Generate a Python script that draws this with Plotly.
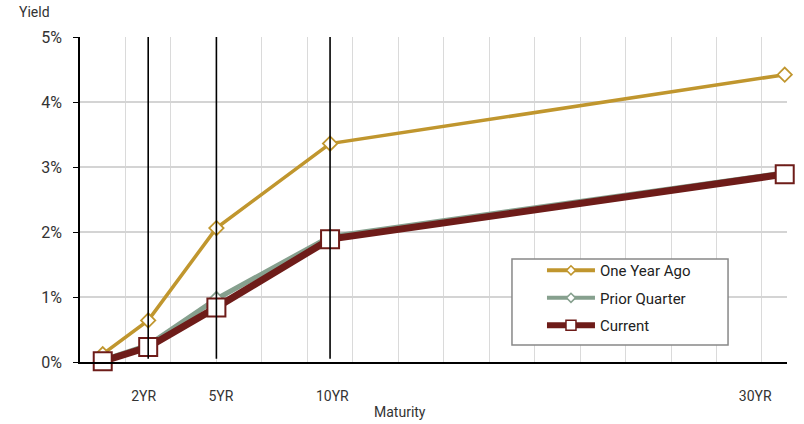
import plotly.graph_objects as go

# Data
maturity_years = [0, 2, 5, 10, 30]
one_year_ago = [0.12, 0.64, 2.06, 3.36, 4.42]
prior_quarter = [0.03, 0.26, 0.97, 1.93, 2.91]
current = [0.01, 0.23, 0.84, 1.89, 2.89]

series_names = ["One Year Ago", "Prior Quarter", "Current"]
tick_labels = ["2YR", "5YR", "10YR", "30YR"]
tick_label_pos = [1.8, 5.2, 10.1, 28.7]
vline_years = [2, 5, 10]

GOLD = "#C0962E"
GREEN = "#86A08E"
MAROON = "#6E1C19"
FONT = "Roboto, Liberation Sans, Arial"
TXT = "#333333"

fig = go.Figure()

styles = [
    (one_year_ago, GOLD, 3.5, "diamond", 11, 1.8, 4, 7),
    (prior_quarter, GREEN, 5, "diamond", 11, 1.8, 4, 7),
    (current, MAROON, 7, "square", 18, 2, 6, 10),
]

# data traces
for name, (vals, col, lw, sym, ms, mlw, leg_lw, leg_ms) in zip(series_names, styles):
    fig.add_trace(go.Scatter(
        x=maturity_years, y=vals, name=name, mode="lines+markers", showlegend=False,
        cliponaxis=False,
        line=dict(color=col, width=lw),
        marker=dict(symbol=sym, size=ms, color="white", line=dict(color=col, width=mlw))))

for v in vline_years:
    fig.add_trace(go.Scatter(
        x=[v, v], y=[0.05, 5], mode="lines", showlegend=False,
        line=dict(color="black", width=1.6), hoverinfo="skip"))

# legend-only entries (smaller symbols, as in the reference legend)
for i, (name, (vals, col, lw, sym, ms, mlw, leg_lw, leg_ms)) in enumerate(zip(series_names, styles)):
    fig.add_trace(go.Scatter(
        x=[None], y=[None], name=name, mode="lines+markers", legendgroup=str(i),
        line=dict(color=col, width=leg_lw),
        marker=dict(symbol=sym, size=leg_ms, color="white", line=dict(color=col, width=1.5))))

fig.update_layout(
    width=804, height=424,
    margin=dict(l=80, r=17, t=37, b=62),
    paper_bgcolor="white", plot_bgcolor="white",
    font=dict(family=FONT, size=14, color=TXT),
    showlegend=True,
    legend=dict(
        x=0.611, y=0.332, xanchor="left", yanchor="top",
        bgcolor="rgba(255,255,255,0)", borderwidth=0,
        font=dict(size=15, color="#222222"), tracegroupgap=5,
        indentation=30, itemwidth=48,
    ),
    shapes=[dict(type="rect", xref="paper", yref="paper",
                 x0=0.611, x1=0.9166, y0=0.0523, y1=0.3169,
                 fillcolor="white", line=dict(color="#888888", width=1.5), layer="above")],
    xaxis=dict(
        range=[-1, 30.1], tickmode="array", tickvals=tick_label_pos, ticktext=tick_labels,
        showgrid=False, zeroline=False, automargin=False,
        showline=True, linecolor="black", linewidth=1.5,
        ticks="outside", ticklen=20, tickcolor="rgba(0,0,0,0)",
        tickfont=dict(size=14, color=TXT),
        minor=dict(tick0=-1, dtick=2, showgrid=True, gridcolor="#DADADA", gridwidth=1.2, ticks=""),
    ),
    yaxis=dict(
        range=[0, 5], dtick=1, ticksuffix="%", automargin=False,
        showgrid=True, gridcolor="#D4D4D4", gridwidth=1.5, zeroline=False,
        showline=True, linecolor="black", linewidth=1.5,
        ticks="outside", ticklen=5, tickcolor="black",
        ticklabelstandoff=8,
        tickfont=dict(size=16, color=TXT),
    ),
    annotations=[
        dict(text="Yield", x=-0.089, y=1.077, xref="paper", yref="paper",
             xanchor="left", yanchor="middle", showarrow=False,
             font=dict(size=14, color=TXT)),
        dict(text="Maturity", x=0.4526, y=-0.154, xref="paper", yref="paper",
             xanchor="center", yanchor="middle", showarrow=False,
             font=dict(size=14, color=TXT)),
    ],
)

fig.write_html("out.html", config={"displayModeBar": False},
               post_script="document.body.style.margin='0';")
